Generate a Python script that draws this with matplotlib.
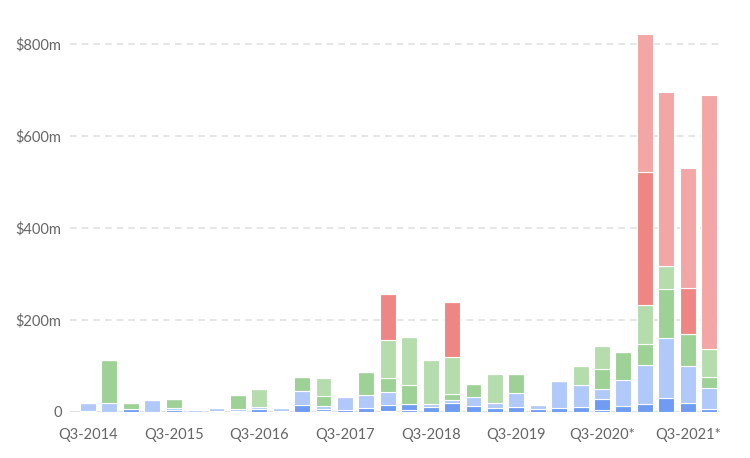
import numpy as np
import matplotlib.pyplot as plt

plt.rcParams['font.family'] = ['Lato', 'DejaVu Sans']

# quarters Q3-2014 .. Q4-2021 (values in $m, stacked bottom to top)
quarters = ['Q3-2014', 'Q4-2014', 'Q1-2015', 'Q2-2015', 'Q3-2015', 'Q4-2015',
            'Q1-2016', 'Q2-2016', 'Q3-2016', 'Q4-2016', 'Q1-2017', 'Q2-2017',
            'Q3-2017', 'Q4-2017', 'Q1-2018', 'Q2-2018', 'Q3-2018', 'Q4-2018',
            'Q1-2019', 'Q2-2019', 'Q3-2019', 'Q4-2019', 'Q1-2020', 'Q2-2020',
            'Q3-2020*', 'Q4-2020*', 'Q1-2021*', 'Q2-2021*', 'Q3-2021*', 'Q4-2021*']

base = [0, 0, 0, 0, 0, 0, 0, 0, 0, 0, 0, 2,
        0, 0, 2, 3, 0, 0, 0, 0, 0, 0, 0, 0,
        4, 0, 0, 0, 0, 0]
dark_blue = [2, 0, 5, 0, 4, 0, 1.5, 2, 6, 1, 14.5, 4,
             4, 7, 12.5, 14, 11, 20, 13, 9, 10, 6, 9, 11,
             23, 13, 17, 29, 19, 6.5]
light_blue = [17, 20, 0, 25, 5, 3, 5.5, 4, 4, 6, 30.5, 6,
              27, 29, 29, 0, 5, 5, 18, 9, 30, 8.5, 57, 47,
              22, 57, 84.5, 130.5, 79.6, 44.5]
green = [0, 92, 15, 0, 19, 0, 0, 30, 0, 0, 30, 23,
         0, 51, 30.5, 42, 0, 14, 29, 0, 43, 0, 0, 0,
         44, 60, 45, 106.5, 71.4, 25]
light_green = [0, 0, 0, 0, 0, 0, 0, 0, 39, 0, 0, 39,
               0, 0, 83, 103, 96, 81, 0, 65, 0, 0, 0, 41,
               51, 0, 86.5, 50, 0, 60]
red = [0, 0, 0, 0, 0, 0, 0, 0, 0, 0, 0, 0,
       0, 0, 99, 0, 0, 119, 0, 0, 0, 0, 0, 0,
       0, 0, 289, 0, 99, 0]
light_red = [0, 0, 0, 0, 0, 0, 0, 0, 0, 0, 0, 0,
             0, 0, 0, 0, 0, 0, 0, 0, 0, 0, 0, 0,
             0, 0, 299, 379, 262, 554]

series = [base, dark_blue, light_blue, green, light_green, red, light_red]
colors = ['#6f9cf2', '#6f9cf2', '#b0c9f8', '#9dd196', '#b4dcac', '#ee8783', '#f2a6a5']

fig = plt.figure(figsize=(7.5, 4.58), dpi=100)
ax = fig.add_axes([70 / 750, 46.3 / 458, 650 / 750, 404.5 / 458])

x = np.arange(len(quarters))
bottom = np.zeros(len(quarters))
for vals, c in zip(series, colors):
    vals = np.array(vals, dtype=float)
    ax.bar(x, vals, bottom=bottom, width=0.74, color=c, edgecolor='white',
           linewidth=0.8, zorder=3)
    bottom += vals

ax.set_xlim(-0.84, len(quarters) - 0.49)
ax.set_ylim(0, 880)

ax.set_yticks([0, 200, 400, 600, 800])
ax.set_yticklabels(['0', '$200m', '$400m', '$600m', '$800m'])
ax.yaxis.grid(True, color='#e2e2e2', linestyle=(0, (4, 3)), linewidth=1.2, zorder=0)
ax.axhline(0, color='#e2e2e2', linewidth=1.5, zorder=1)

ax.set_xticks(x[::4])
ax.set_xticklabels(quarters[::4])

ax.tick_params(axis='both', length=0, labelsize=10.5, colors='#666666')
ax.tick_params(axis='y', pad=6)
ax.tick_params(axis='x', pad=12)
for s in ax.spines.values():
    s.set_visible(False)

fig.savefig('out.png', dpi=100)
